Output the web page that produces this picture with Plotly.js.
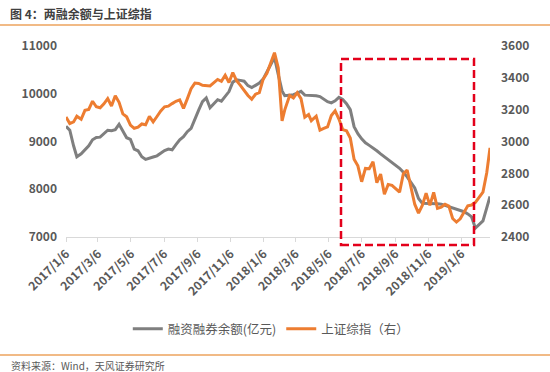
<!DOCTYPE html>
<html><head><meta charset="utf-8">
<script src="https://cdn.plot.ly/plotly-3.0.1.min.js"></script>
<style>html,body{margin:0;padding:0;background:#fff;}#chart{width:550px;height:372px;}</style>
</head><body><div id="chart"></div>
<script>
const dates = [
'2017-01-06','2017-01-13','2017-01-20','2017-01-26','2017-02-03','2017-02-10','2017-02-17','2017-02-24','2017-03-03','2017-03-10',
'2017-03-17','2017-03-24','2017-03-31','2017-04-07','2017-04-14','2017-04-21','2017-04-28','2017-05-05','2017-05-12','2017-05-19',
'2017-05-26','2017-06-02','2017-06-09','2017-06-16','2017-06-23','2017-06-30','2017-07-07','2017-07-14','2017-07-21','2017-07-28',
'2017-08-04','2017-08-11','2017-08-18','2017-08-25','2017-09-01','2017-09-08','2017-09-15','2017-09-22','2017-09-29',
'2017-10-13','2017-10-20','2017-10-27','2017-11-03','2017-11-10','2017-11-17','2017-11-24','2017-12-01','2017-12-08','2017-12-15',
'2017-12-22','2017-12-29','2018-01-05','2018-01-12','2018-01-19','2018-01-26','2018-02-02','2018-02-09','2018-02-14','2018-02-23',
'2018-03-02','2018-03-09','2018-03-16','2018-03-23','2018-03-30','2018-04-04','2018-04-13','2018-04-20','2018-04-27','2018-05-04',
'2018-05-11','2018-05-18','2018-05-25','2018-06-01','2018-06-08','2018-06-15','2018-06-22','2018-06-29','2018-07-06','2018-07-13',
'2018-07-20','2018-07-27','2018-08-03','2018-08-10','2018-08-17','2018-08-24','2018-08-31','2018-09-07','2018-09-14','2018-09-21',
'2018-09-28','2018-10-12','2018-10-19','2018-10-26','2018-11-02','2018-11-09','2018-11-16','2018-11-23','2018-11-30','2018-12-07',
'2018-12-14','2018-12-21','2018-12-28','2019-01-04','2019-01-11','2019-01-18','2019-01-25','2019-02-01','2019-02-15','2019-02-22',
'2019-02-28'];

const marginBalance = [
9320,9236,8910,8680,8742,8816,8910,9036,9085,9091,9163,9236,9226,9247,9360,9226,9079,9043,8841,8806,
8680,8625,8644,8675,8700,8763,8810,8841,8827,8936,9036,9100,9205,9274,9478,9656,9834,9912,9708,
9876,9843,9952,10045,10244,10290,10280,10263,10170,10128,10175,10223,10307,10454,10633,10760,10400,10060,9960,9971,
9981,10013,10049,9971,9971,9971,9956,9940,9887,9834,9809,9851,9923,9881,9792,9666,9310,9163,9057,8973,
8919,8869,8806,8742,8680,8616,8564,8505,8440,8354,8260,
8029,7808,7705,7705,7705,7700,7697,7688,7663,7640,7613,7588,7560,7529,7483,7420,7189,
7336,7609,7850];

const shIndex = [
3154,3113,3123,3159,3140,3196,3202,3253,3218,3212,3237,3269,3223,3287,3246,3173,3155,3103,3083,3090,
3110,3105,3158,3123,3157,3192,3218,3222,3238,3253,3262,3208,3268,3332,3367,3365,3353,3353,3349,
3390,3378,3416,3371,3433,3382,3353,3318,3289,3266,3297,3307,3391,3429,3488,3558,3462,3129,3199,3289,
3273,3307,3269,3152,3169,3131,3159,3071,3082,3092,3163,3193,3141,3075,3067,3022,2889,2847,2747,2831,
2829,2873,2741,2795,2669,2730,2725,2703,2682,2797,2821,
2606,2550,2599,2676,2599,2680,2580,2588,2606,2594,2516,2494,2514,2554,2596,2601,2618,
2682,2804,2960];

const tickDates = ['2017-01-06','2017-03-06','2017-05-06','2017-07-06','2017-09-06','2017-11-06','2018-01-06',
                   '2018-03-06','2018-05-06','2018-07-06','2018-09-06','2018-11-06','2019-01-06'];
const tickLabels = ['2017/1/6','2017/3/6','2017/5/6','2017/7/6','2017/9/6','2017/11/6','2018/1/6',
                    '2018/3/6','2018/5/6','2018/7/6','2018/9/6','2018/11/6','2019/1/6'];
const leftTicks = [7000, 8000, 9000, 10000, 11000];
const leftLabels = ['7000', '8000', '9000', '10000', '11000'];
const rightTicks = [2400, 2600, 2800, 3000, 3200, 3400, 3600];
const rightLabels = ['2400', '2600', '2800', '3000', '3200', '3400', '3600'];
const seriesNames = ['融资融券余额(亿元)', '上证综指（右）'];

const FONT = '"Noto Sans CJK SC", "Noto Sans", sans-serif';
const tickFont = {family: FONT, size: 12, color: '#595959', weight: 'bold'};

const traces = [
  {x: dates, y: marginBalance, name: seriesNames[0], type: 'scatter', mode: 'lines',
   line: {color: '#7F7F7F', width: 3}, yaxis: 'y'},
  {x: dates, y: shIndex, name: seriesNames[1], type: 'scatter', mode: 'lines',
   line: {color: '#ED7D31', width: 3}, yaxis: 'y2'}
];

const layout = {
  width: 550, height: 372,
  margin: {l: 66, r: 60, t: 46, b: 135},
  paper_bgcolor: '#fff', plot_bgcolor: '#fff',
  font: {family: FONT, color: '#595959'},
  title: {text: '图 4：两融余额与上证综指', xref: 'container', yref: 'container',
          x: 10/550, xanchor: 'left', y: 1 - 15/372, yanchor: 'middle',
          font: {family: FONT, size: 12, color: '#404040', weight: 'bold'}},
  showlegend: true,
  legend: {orientation: 'h', x: 0.483, xanchor: 'center', y: -0.482, yanchor: 'middle',
           font: {family: FONT, size: 12.5, color: '#595959'}, bgcolor: 'rgba(0,0,0,0)'},
  xaxis: {type: 'date', range: ['2017-01-06', '2019-02-28'],
          tickmode: 'array', tickvals: tickDates, ticktext: tickLabels, tickangle: -45,
          tickfont: tickFont, showgrid: false, zeroline: false,
          showline: true, linecolor: '#D9D9D9', linewidth: 1,
          ticks: 'outside', ticklen: 4, tickcolor: '#D9D9D9'},
  yaxis: {range: [7000, 11000], tickmode: 'array', tickvals: leftTicks, ticktext: leftLabels,
          tickfont: tickFont, showgrid: false, zeroline: false, showline: false,
          ticks: '', ticklabelstandoff: 8},
  yaxis2: {range: [2400, 3600], overlaying: 'y', side: 'right', tickmode: 'array', tickvals: rightTicks,
           ticktext: rightLabels,
           tickfont: tickFont, showgrid: false, zeroline: false, showline: false,
           ticks: '', ticklabelstandoff: 10},
  shapes: [
    {type: 'rect', xref: 'paper', yref: 'paper', x0: (341-66)/424, x1: (474-66)/424,
     y0: (237-245)/191, y1: (237-59)/191, line: {color: '#E3001B', width: 2.5, dash: '8px,4px'},
     fillcolor: 'rgba(0,0,0,0)'},
    {type: 'line', xref: 'paper', yref: 'paper', x0: -66/424, x1: 484/424,
     y0: (237-25)/191, y1: (237-25)/191, line: {color: '#EDA35E', width: 1.5}},
    {type: 'line', xref: 'paper', yref: 'paper', x0: -66/424, x1: 484/424,
     y0: (237-355)/191, y1: (237-355)/191, line: {color: '#EDA35E', width: 1.5}}
  ],
  annotations: [
    {text: '资料来源：Wind，天风证券研究所', xref: 'paper', yref: 'paper',
     x: (9-66)/424, xanchor: 'left', y: (237-365)/191, yanchor: 'middle', showarrow: false,
     font: {family: FONT, size: 10, color: '#595959'}}
  ]
};

Plotly.newPlot('chart', traces, layout, {staticPlot: true, displayModeBar: false});
</script></body></html>
